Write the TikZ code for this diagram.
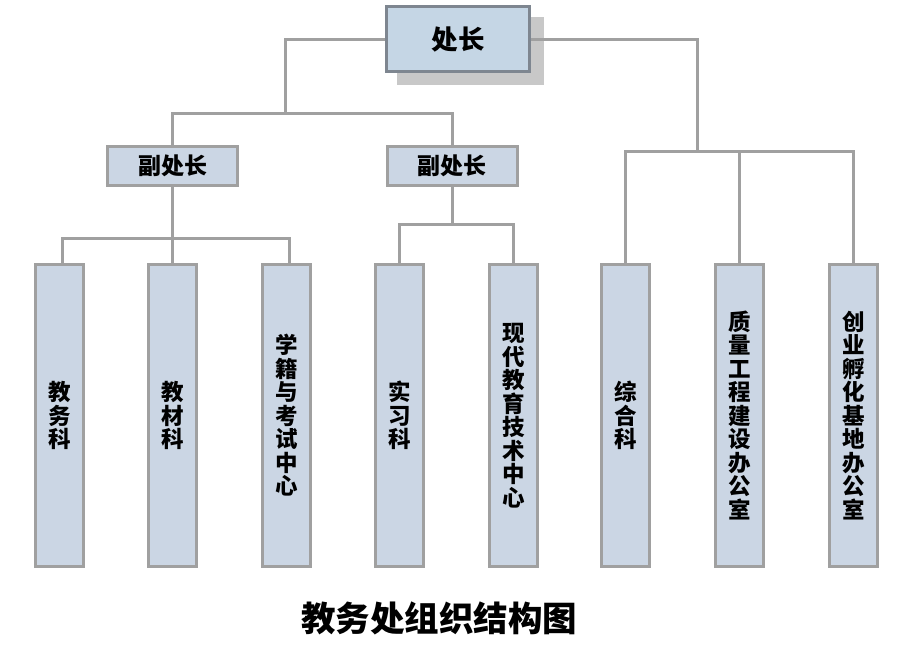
\documentclass[tikz,border=0pt]{standalone}
\usepackage{fontspec}
\setmainfont{Noto Sans CJK SC}
\definecolor{boxfill}{HTML}{CBD6E4}
\definecolor{topfill}{HTML}{C5D6E5}
\definecolor{topline}{HTML}{7E8690}
\definecolor{boxline}{HTML}{A0A0A0}
\definecolor{shadowgray}{HTML}{C8C8C8}
\tikzset{
  topbox/.style={draw=topline, line width=3.5pt, fill=topfill, minimum width=143pt, minimum height=65pt, inner sep=0pt, font=\bfseries\fontsize{26.5}{28}\selectfont},
  subbox/.style={draw=boxline, line width=3pt, fill=boxfill, minimum width=130pt, minimum height=39pt, inner sep=0pt, font=\bfseries\fontsize{23}{24}\selectfont},
  unitbox/.style={draw=boxline, line width=3pt, fill=boxfill, minimum width=48pt, minimum height=302pt, inner sep=0pt, align=center, font=\bfseries\fontsize{22.5}{23.5}\selectfont},
  conn/.style={draw=boxline, line width=3pt},
}
\begin{document}
\begin{tikzpicture}[x=1pt,y=-1pt]
\useasboundingbox (0,0) rectangle (916,653);
\fill[shadowgray] (397,17) rectangle (544,85);
\node[topbox] (top) at (458,39) {处长};
\node[subbox] (v1) at (172.5,166) {副处长};
\node[subbox] (v2) at (452,166) {副处长};
\node[unitbox] (b1) at (59.5,415.5) {教\\务\\科};
\node[unitbox] (b2) at (172.5,415.5) {教\\材\\科};
\node[unitbox] (b3) at (286.5,415.5) {学\\籍\\与\\考\\试\\中\\心};
\node[unitbox] (b4) at (399.5,415.5) {实\\习\\科};
\node[unitbox] (b5) at (513.5,415.5) {现\\代\\教\\育\\技\\术\\中\\心};
\node[unitbox] (b6) at (625.5,415.5) {综\\合\\科};
\node[unitbox] (b7) at (739.5,415.5) {质\\量\\工\\程\\建\\设\\办\\公\\室};
\node[unitbox] (b8) at (853.5,415.5) {创\\业\\孵\\化\\基\\地\\办\\公\\室};
\node[font=\bfseries\fontsize{34.5}{38}\selectfont] (title) at (439,618) {教务处组织结构图};
\coordinate (j1) at (285,113);
\coordinate (j2) at (697,151);
\coordinate (j3) at (172.5,238);
\coordinate (j4) at (452,224);
\draw[conn] (top.west) -| (j1);
\draw[conn] (v1.north) |- (j1);
\draw[conn] (v2.north) |- (j1);
\draw[conn] (top.east) -| (j2);
\draw[conn] (b6.north) |- (j2);
\draw[conn] (b7.north) |- (j2);
\draw[conn] (b8.north) |- (j2);
\draw[conn] (v1.south) -- (b2.north);
\draw[conn] ([xshift=2.5pt]b1.north) |- (j3);
\draw[conn] ([xshift=3pt]b3.north) |- (j3);
\draw[conn] (v2.south) -- (j4);
\draw[conn] (b4.north) |- (j4);
\draw[conn] (b5.north) |- (j4);
\end{tikzpicture}
\end{document}
